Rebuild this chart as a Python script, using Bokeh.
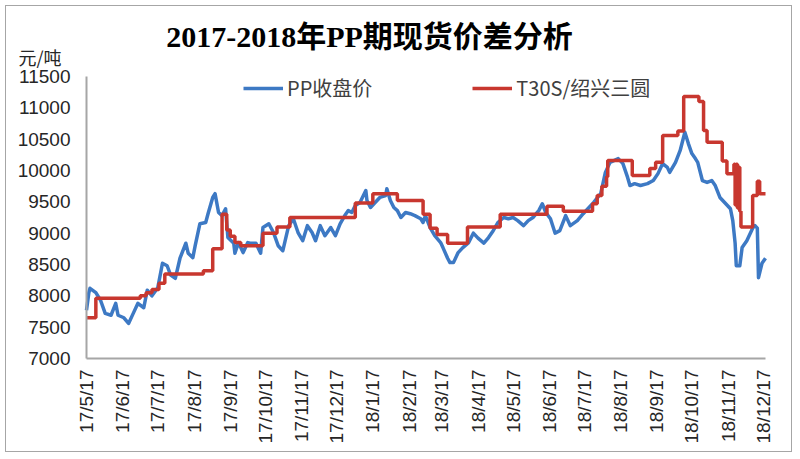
import math
import pandas as pd
from bokeh.plotting import figure
from bokeh.models import FixedTicker, Label, Legend, LegendItem, Range1d
from bokeh.embed import file_html
from bokeh.resources import INLINE

title_text = "2017-2018年PP期现货价差分析"
unit_text = "元/吨"
series_names = ["PP收盘价", "T30S/绍兴三圆"]

pp_dates = [
    "2017-05-17", "2017-05-19", "2017-05-20", "2017-05-25", "2017-05-29", "2017-06-02", "2017-06-07",
    "2017-06-11", "2017-06-13", "2017-06-18", "2017-06-22", "2017-06-26", "2017-06-30", "2017-07-05",
    "2017-07-08", "2017-07-12", "2017-07-17", "2017-07-21", "2017-07-25", "2017-07-28", "2017-08-01",
    "2017-08-05", "2017-08-10", "2017-08-12", "2017-08-16", "2017-08-18", "2017-08-22", "2017-08-27",
    "2017-08-29", "2017-09-02", "2017-09-04", "2017-09-07", "2017-09-10", "2017-09-13", "2017-09-15",
    "2017-09-20", "2017-09-21", "2017-09-24", "2017-09-28", "2017-10-02", "2017-10-04", "2017-10-09",
    "2017-10-13", "2017-10-15", "2017-10-20", "2017-10-24", "2017-10-28", "2017-11-01", "2017-11-06",
    "2017-11-10", "2017-11-14", "2017-11-18", "2017-11-22", "2017-11-26", "2017-11-29", "2017-12-03",
    "2017-12-07", "2017-12-12", "2017-12-16", "2017-12-20", "2017-12-24", "2017-12-27", "2017-12-30",
    "2018-01-02", "2018-01-06", "2018-01-11", "2018-01-12", "2018-01-15", "2018-01-19", "2018-01-23",
    "2018-01-28", "2018-01-29", "2018-02-01", "2018-02-04", "2018-02-07", "2018-02-10", "2018-02-14",
    "2018-02-18", "2018-02-22", "2018-02-27", "2018-03-01", "2018-03-03", "2018-03-07", "2018-03-11",
    "2018-03-16", "2018-03-18", "2018-03-22", "2018-03-24", "2018-03-27", "2018-03-31", "2018-04-04",
    "2018-04-09", "2018-04-13", "2018-04-17", "2018-04-22", "2018-04-26", "2018-04-30", "2018-05-04",
    "2018-05-09", "2018-05-13", "2018-05-17", "2018-05-21", "2018-05-26", "2018-05-30", "2018-06-03",
    "2018-06-08", "2018-06-11", "2018-06-14", "2018-06-18", "2018-06-22", "2018-06-26", "2018-07-01",
    "2018-07-05", "2018-07-11", "2018-07-16", "2018-07-25", "2018-07-31", "2018-08-04", "2018-08-08",
    "2018-08-15", "2018-08-19", "2018-08-23", "2018-08-25", "2018-08-29", "2018-09-03", "2018-09-09",
    "2018-09-14", "2018-09-18", "2018-09-22", "2018-09-26", "2018-09-28", "2018-10-03", "2018-10-07",
    "2018-10-11", "2018-10-14", "2018-10-17", "2018-10-20", "2018-10-22", "2018-10-26", "2018-10-30",
    "2018-11-03", "2018-11-06", "2018-11-10", "2018-11-14", "2018-11-19", "2018-11-21", "2018-11-23",
    "2018-11-24", "2018-11-27", "2018-11-29", "2018-12-03", "2018-12-08", "2018-12-10", "2018-12-12",
    "2018-12-13", "2018-12-16", "2018-12-19",
]
pp_values = [
    7770, 8050, 8120, 8050, 7930, 7720, 7690,
    7880, 7690, 7650, 7560, 7720, 7880, 7810,
    8090, 8000, 8130, 8520, 8480, 8330, 8280,
    8600, 8840, 8680, 8610, 8800, 9150, 9170,
    9310, 9570, 9630, 9330, 9280, 9390, 8930,
    8840, 8680, 8850, 8690, 8850, 8840, 8840,
    8680, 9090, 9150, 9010, 8800, 8720, 9120,
    9230, 9010, 8880, 9120, 9010, 8880, 9120,
    8960, 9090, 8960, 9150, 9280, 9360, 9330,
    9440, 9490, 9680, 9520, 9410, 9490, 9570,
    9600, 9710, 9520, 9410, 9360, 9250, 9330,
    9310, 9280, 9230, 9170, 9280, 9090, 8960,
    8850, 8770, 8600, 8530, 8530, 8690, 8770,
    8850, 9000, 8920, 8840, 8930, 9040, 9170,
    9250, 9230, 9250, 9200, 9120, 9200, 9250,
    9360, 9470, 9330, 9230, 9000, 9040, 9280,
    9120, 9200, 9310, 9490, 9630, 9970, 10130,
    10190, 10110, 9890, 9760, 9790, 9760, 9790,
    9840, 9950, 10110, 10050, 9970, 10130, 10320,
    10610, 10430, 10270, 10190, 10130, 9840, 9810,
    9840, 9760, 9570, 9490, 9390, 9200, 8840,
    8480, 8480, 8770, 8880, 9080, 9120, 9080,
    8290, 8520, 8600,
]

t30s_dates = [
    "2017-05-17", "2017-05-25", "2017-07-02", "2017-07-07", "2017-07-12", "2017-07-18", "2017-07-23",
    "2017-08-25", "2017-09-02", "2017-09-10", "2017-09-14", "2017-09-17", "2017-09-21", "2017-09-26",
    "2017-10-15", "2017-10-27", "2017-11-07", "2018-01-02", "2018-01-17", "2018-02-07", "2018-03-01",
    "2018-03-07", "2018-03-13", "2018-03-22", "2018-04-08", "2018-05-06", "2018-06-15", "2018-06-29",
    "2018-07-24", "2018-07-28", "2018-08-01", "2018-08-05", "2018-08-06", "2018-08-27", "2018-09-11",
    "2018-09-16", "2018-09-22", "2018-10-05", "2018-10-10", "2018-10-23", "2018-10-27", "2018-10-30",
    "2018-11-12", "2018-11-16", "2018-11-22", "2018-11-23", "2018-11-24", "2018-11-25", "2018-11-26",
    "2018-11-27", "2018-11-28", "2018-12-08", "2018-12-12", "2018-12-14", "2018-12-19",
]
t30s_values = [
    7650, 7960, 8000, 8050, 8100, 8200, 8350,
    8400, 8750, 9300, 9050, 8950, 8850, 8800,
    9000, 9100, 9250, 9480, 9630, 9520, 9300,
    9080, 8980, 8840, 9100, 9300, 9430, 9350,
    9470, 9600, 9750, 9900, 10160, 9920, 10030,
    10130, 10560, 10630, 11180, 11100, 10640, 10450,
    10150, 9950, 10100, 9450, 10100, 9400, 10050,
    9350, 9100, 9600, 9830, 9630, 9630,
]

x_tick_dates = [
    "2017-05-17", "2017-06-17", "2017-07-17", "2017-08-17", "2017-09-17", "2017-10-17", "2017-11-17",
    "2017-12-17", "2018-01-17", "2018-02-17", "2018-03-17", "2018-04-17", "2018-05-17", "2018-06-17",
    "2018-07-17", "2018-08-17", "2018-09-17", "2018-10-17", "2018-11-17", "2018-12-17",
]
x_tick_labels = [
    "17/5/17", "17/6/17", "17/7/17", "17/8/17", "17/9/17", "17/10/17", "17/11/17",
    "17/12/17", "18/1/17", "18/2/17", "18/3/17", "18/4/17", "18/5/17", "18/6/17",
    "18/7/17", "18/8/17", "18/9/17", "18/10/17", "18/11/17", "18/12/17",
]
y_ticks = [7000, 7500, 8000, 8500, 9000, 9500, 10000, 10500, 11000, 11500]

start = pd.Timestamp(pp_dates[0])


def to_days(ds):
    return [int((pd.Timestamp(d) - start).days) for d in ds]


pp_x = to_days(pp_dates)
t30s_x = to_days(t30s_dates)
tick_x = to_days(x_tick_dates)
x_end = max(pp_x[-1], t30s_x[-1])

BLUE = "#3d79c4"
RED = "#c8372f"
AXIS = "#a6a6a6"
TXT = "#262626"

# canvas geometry (px): the frame covers the whole canvas; both axes are
# pinned at the chart's data origin and bounded to the data extent
W, H = 787, 447
AX_X, AX_TOP, AX_BOT, AX_RIGHT = 80, 70, 352, 759
ppd = (AX_RIGHT - AX_X) / x_end                               # px per day
vpp = (y_ticks[-1] - y_ticks[0]) / (AX_BOT - AX_TOP)          # value per px

p = figure(width=W, height=H, output_backend="svg", toolbar_location=None,
           x_range=Range1d(-AX_X / ppd, x_end + (W - AX_RIGHT) / ppd),
           y_range=Range1d(y_ticks[0] - (H - AX_BOT) * vpp, y_ticks[-1] + AX_TOP * vpp),
           min_border_left=0, min_border_right=0, min_border_top=0,
           min_border_bottom=0,
           background_fill_color="white", border_fill_color="white",
           outline_line_color=None,
           styles={"border": "1px solid #a6a6a6", "margin": "5px"})
p.grid.visible = False

p.xaxis.ticker = FixedTicker(ticks=tick_x, minor_ticks=[])
p.xaxis.major_label_overrides = {t: lab for t, lab in zip(tick_x, x_tick_labels)}
p.xaxis.major_label_orientation = math.pi / 2
p.xaxis.bounds = (0, x_end)
p.xaxis.fixed_location = y_ticks[0]
p.yaxis.ticker = FixedTicker(ticks=y_ticks, minor_ticks=[])
p.yaxis.bounds = (y_ticks[0], y_ticks[-1])
p.yaxis.fixed_location = 0
for ax in (p.xaxis, p.yaxis):
    ax.axis_line_color = AXIS
    ax.axis_line_width = 2
    ax.major_tick_line_color = None
    ax.minor_tick_line_color = None
    ax.major_tick_out = 0
    ax.major_tick_in = 0
    ax.major_label_text_font = "Liberation Sans"
    ax.major_label_text_font_size = "19px"
    ax.major_label_text_color = TXT
p.xaxis.major_label_standoff = 11
p.yaxis.major_label_standoff = 16

r_pp = p.line(pp_x, pp_values, line_color=BLUE, line_width=3.5, line_join="round")
r_t30 = p.step(t30s_x, t30s_values, mode="after", line_color=RED, line_width=3.5)

legend = Legend(items=[LegendItem(label=series_names[0], renderers=[r_pp]),
                       LegendItem(label=series_names[1], renderers=[r_t30])],
                orientation="horizontal", location=(237, H - 96),
                padding=0, margin=0, spacing=100, glyph_width=40, glyph_height=20,
                label_height=20, label_standoff=4,
                label_text_font="Noto Sans CJK SC", label_text_font_size="20px",
                label_text_color="#404040",
                border_line_color=None, background_fill_alpha=0)
p.add_layout(legend)

p.add_layout(Label(x=(363 - AX_X) / ppd, y=y_ticks[-1] + (AX_TOP - 30) * vpp, text=title_text,
                   text_align="center", text_baseline="alphabetic",
                   text_font="Liberation Serif, Noto Sans CJK SC", text_font_size="30px",
                   text_font_style="bold", text_color="black"))
p.add_layout(Label(x=(12 - AX_X) / ppd, y=y_ticks[-1] + (AX_TOP - 50) * vpp, text=unit_text,
                   text_align="left", text_baseline="middle",
                   text_font="Noto Sans CJK SC", text_font_size="18px", text_color=TXT))

open("out.html", "w").write(file_html(p, INLINE))
